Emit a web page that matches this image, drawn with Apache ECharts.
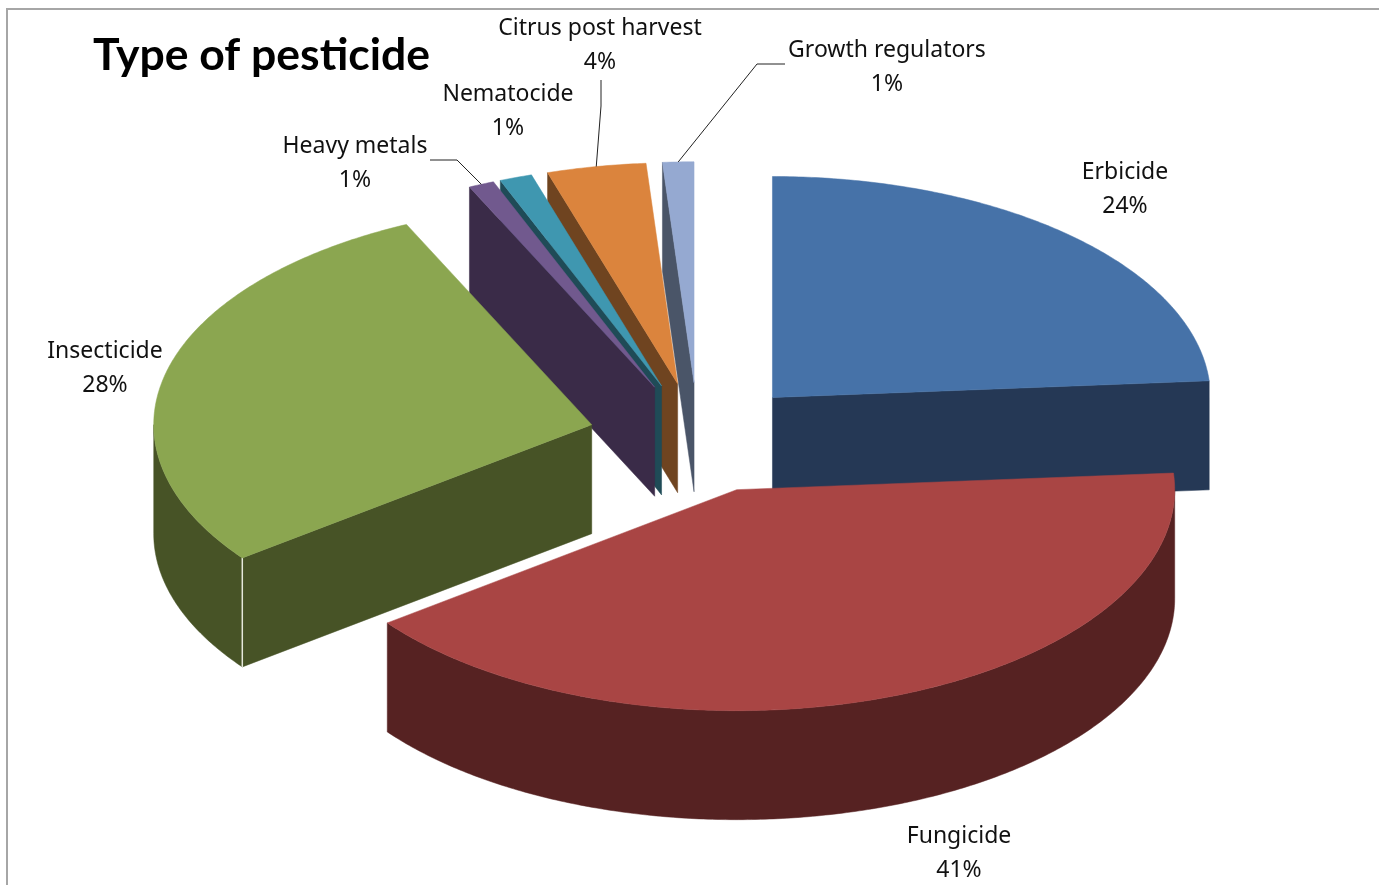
<!DOCTYPE html>
<html><head><meta charset="utf-8">
<style>html,body{margin:0;padding:0;background:#fff}#c{width:1379px;height:885px}</style>
<script src="https://cdn.jsdelivr.net/npm/echarts@6/dist/echarts.min.js"></script>
</head><body><div id="c"></div>
<script>
// ---- data ----
const categories = ['Erbicide','Fungicide','Insecticide','Heavy metals','Nematocide','Citrus post harvest','Growth regulators'];
const shares = [23.8, 40.9, 28.35, 0.95, 1.2, 3.65, 1.15];
const topColors = ['#4672A8','#A94544','#8BA650','#71598E','#3F97B0','#DB843D','#95A9D1'];
const sideColors = ['#253855','#562222','#475326','#3A2B48','#1F4B57','#6F4420','#4A5568'];
// painter's order: back slices first
const drawOrder = [6,5,4,3,0,2,1];

// ---- layout ----
const pie = {cx:698, cy:438, rx:438, ry:221, depth:109, explode:0.25};
const labelCentres = [[1125,189],[959,853],[105,368],[355,163],[508,111],[600,45],[887,67]];
const leaderPaths = {3:[[430,160],[457,160]], 5:[[601,80],[601,106]], 6:[[785,64],[757,64]]};

const total = shares.reduce((a,b)=>a+b,0);
const starts = []; shares.reduce((acc,v,i)=>{starts[i]=acc;return acc+v;},0);
const rad = v => v/total*2*Math.PI;

function apex(a0,a1){
  const m=(a0+a1)/2;
  return [pie.cx+pie.explode*pie.rx*Math.sin(m), pie.cy-pie.explode*pie.ry*Math.cos(m)];
}
function rim(c,a){return [c[0]+pie.rx*Math.sin(a), c[1]-pie.ry*Math.cos(a)];}
const down = p => [p[0],p[1]+pie.depth];

function renderSlice(params, api){
  const i = params.dataIndex;
  const value = api.value(0);
  const a0 = rad(starts[i]), a1 = a0+rad(value);
  const c = apex(a0,a1);
  const rank = drawOrder.indexOf(i);
  const z = rank*10+1;
  const kids = [];
  const poly = (pts,fill,dz)=>kids.push({type:'polygon',z2:z+dz,shape:{points:pts},
    style:{fill:fill,stroke:fill,lineWidth:0.5}});
  // radial walls
  const p0 = rim(c,a0), p1 = rim(c,a1);
  if(Math.sin(a0)<-1e-6) poly([c,p0,down(p0),down(c)],sideColors[i],0);
  if(Math.sin(a1)>1e-6) poly([c,p1,down(p1),down(c)],sideColors[i],0);
  // outer wall: only the part of the rim that faces the viewer
  const w0 = Math.max(a0,Math.PI/2), w1 = Math.min(a1,Math.PI*1.5);
  if(w1>w0){
    const arc=[]; const n=Math.ceil((w1-w0)/0.01);
    for(let k=0;k<=n;k++) arc.push(rim(c,w0+(w1-w0)*k/n));
    poly(arc.concat(arc.slice().reverse().map(down)),sideColors[i],1);
  }
  // top face
  const top=[c]; const n=Math.max(4,Math.ceil((a1-a0)/0.01));
  for(let k=0;k<=n;k++) top.push(rim(c,a0+(a1-a0)*k/n));
  poly(top,topColors[i],3);
  // light seam where a radial wall meets the rim wall
  if(Math.sin(a0)<-1e-6 && a0>Math.PI/2 && a0<Math.PI*1.5){
    const s=down(p0);
    kids.push({type:'line',z2:z+2,shape:{x1:p0[0],y1:p0[1],x2:s[0],y2:s[1]},
      style:{stroke:'#E6E8DC',lineWidth:1.5}});
  }
  // label
  kids.push({type:'text',z2:200,style:{
    text:categories[i]+'\n'+Math.round(value/total*100)+'%',
    x:labelCentres[i][0],y:labelCentres[i][1],align:'center',verticalAlign:'middle',
    font:'23px "Noto Sans", sans-serif',lineHeight:34,fill:'#111'}});
  // leader
  if(leaderPaths[i]){
    const end=rim(c,(a0+a1)/2);
    kids.push({type:'polyline',z2:201,shape:{points:leaderPaths[i].concat([end])},
      style:{stroke:'#222',lineWidth:1,fill:null}});
  }
  return {type:'group',children:kids};
}

const chart = echarts.init(document.getElementById('c'),null,{renderer:'canvas'});
chart.setOption({
  animation:false,
  backgroundColor:'#fff',
  title:{text:'Type of pesticide',left:88,top:28,
    textStyle:{fontFamily:'Lato, sans-serif',fontWeight:'bold',fontSize:44.5,color:'#000'}},
  graphic:[{type:'polyline',shape:{points:[[7,885],[7,9],[1379,9]]},
    style:{stroke:'#A6A6A6',lineWidth:2,fill:null},silent:true}],
  series:[{type:'custom',coordinateSystem:'none',silent:true,
    renderItem:renderSlice,
    data:categories.map((n,i)=>({name:n,value:[shares[i]]}))}]
});
</script></body></html>
